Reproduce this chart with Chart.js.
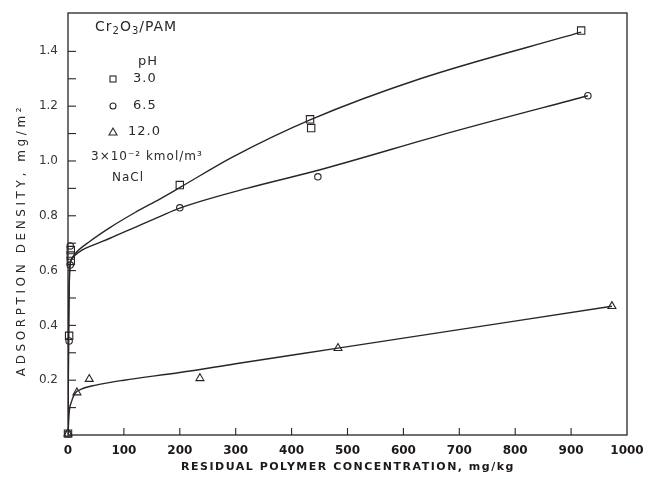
<!DOCTYPE html>
<html><head><meta charset="utf-8">
<script src="https://cdn.jsdelivr.net/npm/chart.js@4"></script>
<style>html,body{margin:0;padding:0;background:#fff}#wrap{width:645px;height:479px}</style>
</head><body><div id="wrap"><canvas id="c" width="645" height="479"></canvas></div>
<script>
// Measured points (x: residual polymer mg/kg, y: adsorption density mg/m2)
const pH3Points = [[0,0.005],[2,0.362],[5,0.675],[5,0.655],[5,0.635],[200,0.912],[433,1.152],[435,1.12],[918,1.476]];
const pH65Points = [[0,0.005],[2,0.343],[4,0.69],[4,0.62],[200,0.829],[447,0.942],[930,1.238]];
const pH12Points = [[0,0.005],[16,0.155],[38,0.204],[236,0.207],[483,0.317],[973,0.47]];
// Hand-drawn fitted curves
const pH3Curve = [[0,0],[1,0.35],[3,0.6],[6,0.64],[12,0.66],[40,0.708],[75,0.757],[120,0.812],[165,0.862],[200,0.903],[295,1.015],[433,1.15],[630,1.3],[918,1.47]];
const pH65Curve = [[0,0],[1,0.35],[3,0.6],[6,0.64],[12,0.655],[25,0.675],[45,0.693],[75,0.718],[120,0.758],[165,0.798],[200,0.828],[320,0.9],[451,0.968],[689,1.107],[930,1.238]];
const pH12Curve = [[0,0],[2,0.08],[6,0.12],[12,0.15],[25,0.168],[50,0.182],[100,0.2],[200,0.228],[300,0.26],[483,0.317],[973,0.47]];
const xTicks = [0,100,200,300,400,500,600,700,800,900,1000];
const yLabelled = [0.2,0.4,0.6,0.8,1.0,1.2,1.4];
const legendTitleRuns = [['Cr',0],['2',1],['O',0],['3',1],['/PAM',0]];
const legendHead = 'pH';
const seriesLabels = ['3.0','6.5','12.0'];
const saltLine1 = '3×10⁻² kmol/m³';
const saltLine2 = 'NaCl';
const yTitle = 'ADSORPTION DENSITY, mg/m²';
const xTitle = 'RESIDUAL POLYMER CONCENTRATION, mg/kg';

const toXY = a => a.map(p => ({x:p[0], y:p[1]}));
const INK = '#2b2424';
const FONT = '"DejaVu Sans", sans-serif';

function curveDS(d){return {type:'line',data:toXY(d),borderColor:INK,borderWidth:1.4,pointRadius:0,showLine:true,cubicInterpolationMode:'monotone',fill:false};}
function ptDS(d,style,r){return {type:'scatter',data:toXY(d),pointStyle:style,pointRadius:r,pointBorderColor:INK,pointBackgroundColor:'rgba(255,255,255,0)',pointBorderWidth:1.1,showLine:false,clip:false};}

const decor = {
  id:'decor',
  afterDraw(chart){
    const ctx = chart.ctx, a = chart.chartArea, xs = chart.scales.x, ys = chart.scales.y;
    ctx.save();
    ctx.strokeStyle = INK; ctx.lineWidth = 1.3;
    ctx.strokeRect(a.left, a.top, a.right-a.left, a.bottom-a.top);
    // inside ticks
    ctx.lineWidth = 1.1;
    ys.ticks.forEach(t => {
      const v = t.value; if (Math.abs(v*10 - Math.round(v*10)) > 1e-6 || v <= 0) return;
      const py = ys.getPixelForValue(v);
      ctx.beginPath(); ctx.moveTo(a.left, py); ctx.lineTo(a.left+8, py); ctx.stroke();
    });
    xs.ticks.forEach(t => {
      const px = xs.getPixelForValue(t.value);
      if (t.value <= 0 || t.value >= 1000) return;
      ctx.beginPath(); ctx.moveTo(px, a.bottom); ctx.lineTo(px, a.bottom-7); ctx.stroke();
    });
    // legend block
    ctx.fillStyle = '#2e2828';
    ctx.textBaseline = 'middle'; ctx.textAlign = 'left';
    ctx.letterSpacing = '1px';
    let lx = 95;
    legendTitleRuns.forEach(r => {
      ctx.font = (r[1] ? '10px ' : '14px ') + FONT;
      const yy = r[1] ? 31 : 27;
      ctx.fillText(r[0], lx, yy);
      lx += ctx.measureText(r[0]).width;
    });
    ctx.font = '13px ' + FONT;
    ctx.fillText(legendHead, 138, 62);
    const rows = [79,106,132];
    ctx.fillText(seriesLabels[0], 133, rows[0]);
    ctx.fillText(seriesLabels[1], 133, rows[1]);
    ctx.fillText(seriesLabels[2], 128, rows[2]);
    ctx.font = '12px ' + FONT;
    ctx.fillText(saltLine1, 91, 157);
    ctx.fillText(saltLine2, 112, 178);
    ctx.letterSpacing = '0px';
    ctx.lineWidth = 1.1;
    ctx.strokeRect(110, rows[0]-3, 6, 6);
    ctx.beginPath(); ctx.arc(113, rows[1], 3, 0, Math.PI*2); ctx.stroke();
    ctx.beginPath(); ctx.moveTo(109, rows[2]+3); ctx.lineTo(117, rows[2]+3); ctx.lineTo(113, rows[2]-4); ctx.closePath(); ctx.stroke();
    // axis titles
    ctx.fillStyle = '#1e1818';
    ctx.font = 'bold 11px ' + FONT; ctx.letterSpacing = '1.5px'; ctx.textAlign = 'center';
    ctx.fillText(xTitle, 348, 467);
    ctx.save();
    ctx.translate(22, 240); ctx.rotate(-Math.PI/2);
    ctx.fillStyle = '#2e2828';
    ctx.font = '12px ' + FONT; ctx.letterSpacing = '3.6px';
    ctx.fillText(yTitle, 0, 0);
    ctx.restore();
    ctx.restore();
  }
};

new Chart(document.getElementById('c'), {
  data:{datasets:[
    curveDS(pH3Curve), curveDS(pH65Curve), curveDS(pH12Curve),
    ptDS(pH3Points,'rect',5.2), ptDS(pH65Points,'circle',3.2), ptDS(pH12Points,'triangle',4.6)
  ]},
  options:{
    responsive:false, animation:false, devicePixelRatio:1,
    layout:{padding:{top:13,right:18,left:0,bottom:0}},
    plugins:{legend:{display:false},tooltip:{enabled:false}},
    scales:{
      x:{type:'linear',min:0,max:1000,
        afterBuildTicks(s){s.ticks = xTicks.map(v=>({value:v}));},
        afterFit(s){s.height = 44; s.paddingLeft = 0; s.paddingRight = 0;},
        grid:{display:false,drawTicks:false},border:{display:false},
        ticks:{padding:9,color:'#1e1818',font:{family:FONT,size:12,weight:'bold'},maxRotation:0,autoSkip:false,
          callback(v){return String(v);}}},
      y:{type:'linear',min:0,max:1.54,
        ticks:{stepSize:0.1,padding:10,color:'#3a3434',font:{family:FONT,size:12},autoSkip:false,
          callback(v){return yLabelled.some(l=>Math.abs(l-v)<1e-6) ? v.toFixed(1) : '';}},
        afterFit(s){s.width = 68; s.paddingTop = 0; s.paddingBottom = 0;},
        grid:{display:false,drawTicks:false},border:{display:false}}
    }
  },
  plugins:[decor]
});
</script></body></html>
